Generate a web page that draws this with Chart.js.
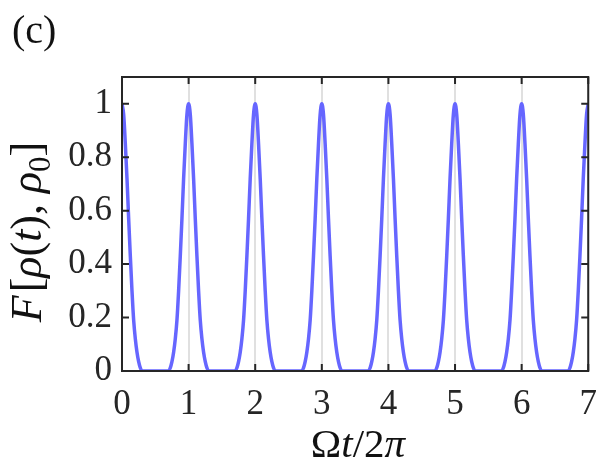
<!DOCTYPE html>
<html>
<head>
<meta charset="utf-8">
<script src="https://cdn.jsdelivr.net/npm/chart.js@4"></script>
<style>
  html, body { margin: 0; padding: 0; background: #fff; }
  canvas { display: block; }
</style>
</head>
<body>
<canvas id="grafica" width="610" height="468"></canvas>
<script>
// valores (c): F[rho(t), rho0] contra Omega t / 2pi
const omegaT = [
  0, 0.025, 0.05, 0.075, 0.1, 0.125, 0.15, 0.175, 0.2, 0.225, 0.25, 0.275, 0.3,
  0.7, 0.725, 0.75, 0.775, 0.8, 0.825, 0.85, 0.875, 0.9, 0.925, 0.95, 0.975, 1, 1.025, 1.05, 1.075, 1.1, 1.125, 1.15, 1.175, 1.2, 1.225, 1.25, 1.275, 1.3,
  1.7, 1.725, 1.75, 1.775, 1.8, 1.825, 1.85, 1.875, 1.9, 1.925, 1.95, 1.975, 2, 2.025, 2.05, 2.075, 2.1, 2.125, 2.15, 2.175, 2.2, 2.225, 2.25, 2.275, 2.3,
  2.7, 2.725, 2.75, 2.775, 2.8, 2.825, 2.85, 2.875, 2.9, 2.925, 2.95, 2.975, 3, 3.025, 3.05, 3.075, 3.1, 3.125, 3.15, 3.175, 3.2, 3.225, 3.25, 3.275, 3.3,
  3.7, 3.725, 3.75, 3.775, 3.8, 3.825, 3.85, 3.875, 3.9, 3.925, 3.95, 3.975, 4, 4.025, 4.05, 4.075, 4.1, 4.125, 4.15, 4.175, 4.2, 4.225, 4.25, 4.275, 4.3,
  4.7, 4.725, 4.75, 4.775, 4.8, 4.825, 4.85, 4.875, 4.9, 4.925, 4.95, 4.975, 5, 5.025, 5.05, 5.075, 5.1, 5.125, 5.15, 5.175, 5.2, 5.225, 5.25, 5.275, 5.3,
  5.7, 5.725, 5.75, 5.775, 5.8, 5.825, 5.85, 5.875, 5.9, 5.925, 5.95, 5.975, 6, 6.025, 6.05, 6.075, 6.1, 6.125, 6.15, 6.175, 6.2, 6.225, 6.25, 6.275, 6.3,
  6.7, 6.725, 6.75, 6.775, 6.8, 6.825, 6.85, 6.875, 6.9, 6.925, 6.95, 6.975, 7
];
const fidelidad = [
  1, 0.96, 0.85, 0.72, 0.57, 0.43, 0.3, 0.19, 0.12, 0.07, 0.035, 0.012, 0,
  0, 0.012, 0.035, 0.07, 0.12, 0.19, 0.3, 0.43, 0.57, 0.72, 0.85, 0.96, 1, 0.96, 0.85, 0.72, 0.57, 0.43, 0.3, 0.19, 0.12, 0.07, 0.035, 0.012, 0,
  0, 0.012, 0.035, 0.07, 0.12, 0.19, 0.3, 0.43, 0.57, 0.72, 0.85, 0.96, 1, 0.96, 0.85, 0.72, 0.57, 0.43, 0.3, 0.19, 0.12, 0.07, 0.035, 0.012, 0,
  0, 0.012, 0.035, 0.07, 0.12, 0.19, 0.3, 0.43, 0.57, 0.72, 0.85, 0.96, 1, 0.96, 0.85, 0.72, 0.57, 0.43, 0.3, 0.19, 0.12, 0.07, 0.035, 0.012, 0,
  0, 0.012, 0.035, 0.07, 0.12, 0.19, 0.3, 0.43, 0.57, 0.72, 0.85, 0.96, 1, 0.96, 0.85, 0.72, 0.57, 0.43, 0.3, 0.19, 0.12, 0.07, 0.035, 0.012, 0,
  0, 0.012, 0.035, 0.07, 0.12, 0.19, 0.3, 0.43, 0.57, 0.72, 0.85, 0.96, 1, 0.96, 0.85, 0.72, 0.57, 0.43, 0.3, 0.19, 0.12, 0.07, 0.035, 0.012, 0,
  0, 0.012, 0.035, 0.07, 0.12, 0.19, 0.3, 0.43, 0.57, 0.72, 0.85, 0.96, 1, 0.96, 0.85, 0.72, 0.57, 0.43, 0.3, 0.19, 0.12, 0.07, 0.035, 0.012, 0,
  0, 0.012, 0.035, 0.07, 0.12, 0.19, 0.3, 0.43, 0.57, 0.72, 0.85, 0.96, 1
];
const ticksX = [0, 1, 2, 3, 4, 5, 6, 7];
const ticksY = [0, 0.2, 0.4, 0.6, 0.8, 1];

const fuente = "'Liberation Serif', 'DejaVu Serif', serif";
const colorEje = "#262626";

// dibuja un texto con partes en cursiva (estilo LaTeX)
function textoMixto(ctx, partes, size) {
  let ancho = 0;
  const medidas = partes.map((p) => {
    const s = p.sub ? size * 0.7 : size;
    ctx.font = (p.it ? "italic " : "") + s + "px " + fuente;
    const w = ctx.measureText(p.t).width + (p.extra || 0);
    ancho += w;
    return w;
  });
  let x = -ancho / 2;
  partes.forEach((p, i) => {
    const s = p.sub ? size * 0.7 : size;
    ctx.font = (p.it ? "italic " : "") + s + "px " + fuente;
    ctx.fillText(p.t, x, p.sub ? size * 0.2 : 0);
    x += medidas[i];
  });
}

const marco = {
  id: "marco",
  afterDatasetsDraw(chart) {
    const { ctx, chartArea: a, scales } = chart;
    ctx.save();
    ctx.strokeStyle = colorEje;
    ctx.lineWidth = 2;
    ctx.strokeRect(a.left, a.top, a.right - a.left, a.bottom - a.top);
    const largo = 7;
    ctx.beginPath();
    ticksX.forEach((v) => {
      const px = scales.x.getPixelForValue(v);
      ctx.moveTo(px, a.bottom); ctx.lineTo(px, a.bottom - largo);
      ctx.moveTo(px, a.top); ctx.lineTo(px, a.top + largo);
    });
    ticksY.forEach((v) => {
      const py = scales.y.getPixelForValue(v);
      ctx.moveTo(a.left, py); ctx.lineTo(a.left + largo, py);
      ctx.moveTo(a.right, py); ctx.lineTo(a.right - largo, py);
    });
    ctx.stroke();

    ctx.fillStyle = "#111";
    ctx.textBaseline = "alphabetic";
    ctx.textAlign = "left";
    // etiqueta del panel
    ctx.font = "40px " + fuente;
    ctx.fillText("(c)", 12, 43);

    // titulo eje x
    ctx.save();
    ctx.translate(358, 457);
    textoMixto(ctx, [
      { t: "Ω", it: false },
      { t: "t", it: true },
      { t: "/2", it: false },
      { t: "π", it: true }
    ], 41);
    ctx.restore();

    // titulo eje y
    ctx.save();
    ctx.translate(41, 232);
    ctx.rotate(-Math.PI / 2);
    textoMixto(ctx, [
      { t: "F", it: true, extra: 3 },
      { t: "[", it: false },
      { t: "ρ", it: true },
      { t: "(", it: false },
      { t: "t", it: true },
      { t: "), ", it: false },
      { t: "ρ", it: true },
      { t: "0", it: false, sub: true },
      { t: "]", it: false }
    ], 44);
    ctx.restore();
    ctx.restore();
  }
};

const puntos = omegaT.map((x, i) => ({ x: x, y: fidelidad[i] }));

new Chart(document.getElementById("grafica"), {
  type: "line",
  data: {
    datasets: [{
      data: puntos,
      borderColor: "rgb(102,102,255)",
      borderWidth: 3.5,
      pointRadius: 0,
      cubicInterpolationMode: "monotone",
      fill: false
    }]
  },
  options: {
    responsive: false,
    animation: false,
    devicePixelRatio: 1,
    layout: { padding: { left: 0, right: 12, top: 77, bottom: 0 } },
    plugins: { legend: { display: false }, tooltip: { enabled: false } },
    scales: {
      x: {
        type: "linear",
        min: 0,
        max: 7,
        afterBuildTicks: (s) => { s.ticks = ticksX.map((v) => ({ value: v })); },
        afterFit: (s) => { s.height = 97; },
        grid: { color: "#e0e0e0", lineWidth: 2, drawTicks: false },
        border: { display: false },
        ticks: {
          padding: 13,
          color: "#262626",
          font: { family: fuente, size: 35 },
          maxRotation: 0,
          callback: (v) => String(v)
        }
      },
      y: {
        min: 0,
        max: 1.1,
        afterBuildTicks: (s) => { s.ticks = ticksY.map((v) => ({ value: v })); },
        afterFit: (s) => { s.width = 122; },
        grid: { display: false, drawTicks: false },
        border: { display: false },
        ticks: {
          padding: 10,
          color: "#262626",
          font: { family: fuente, size: 35 },
          callback: (v) => String(v)
        }
      }
    }
  },
  plugins: [marco]
});
</script>
</body>
</html>
